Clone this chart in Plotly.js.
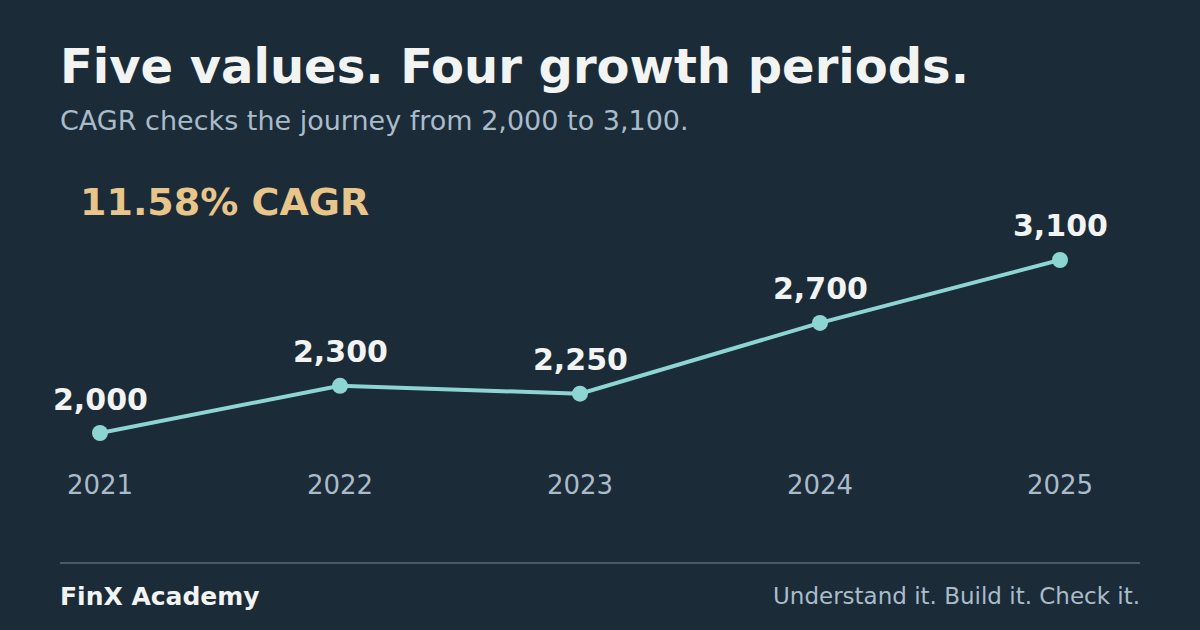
<!DOCTYPE html>
<html>
<head>
<meta charset="utf-8">
<script src="https://cdn.plot.ly/plotly-3.0.1.min.js"></script>
<style>
html,body{margin:0;padding:0;background:#1c2b38;}
#chart{width:1200px;height:630px;}
</style>
</head>
<body>
<div id="chart"></div>
<script>
const years = [2021, 2022, 2023, 2024, 2025];
const values = [2000, 2300, 2250, 2700, 3100];
const valueLabels = ["2,000", "2,300", "2,250", "2,700", "3,100"];
const tickLabels = ["2021", "2022", "2023", "2024", "2025"];
const titleText = "Five values. Four growth periods.";
const subtitleText = "CAGR checks the journey from 2,000 to 3,100.";
const cagrText = "11.58% CAGR";
const footerLeft = "FinX Academy";
const footerRight = "Understand it. Build it. Check it.";

const W = 1200, H = 630;
const mL = 100, mR = 140, mT = 200, mB = 170;
const pw = W - mL - mR, ph = H - mT - mB;
const px = p => (p - mL) / pw;
const py = p => (H - mB - p) / ph;

const FONT = "DejaVu Sans, sans-serif";
const annotations = years.map((yr, i) => ({
  x: yr, y: values[i], xref: 'x', yref: 'y',
  text: '<b>' + valueLabels[i] + '</b>', showarrow: false,
  yshift: 34, font: {family: FONT, size: 30, color: '#f1f4f2'}
}));
annotations.push(
  {xref:'paper', yref:'paper', x: px(58), y: py(66), xanchor:'left', yanchor:'middle', showarrow:false,
   text:'<b>' + titleText + '</b>', font:{family:FONT, size:48, color:'#f1f4f2'}},
  {xref:'paper', yref:'paper', x: px(58), y: py(121), xanchor:'left', yanchor:'middle', showarrow:false,
   text: subtitleText, font:{family:FONT, size:27, color:'#a9bccb'}},
  {xref:'paper', yref:'paper', x: px(78), y: py(202), xanchor:'left', yanchor:'middle', showarrow:false,
   text:'<b>' + cagrText + '</b>', font:{family:FONT, size:38, color:'#e8c58a'}},
  {xref:'paper', yref:'paper', x: px(58), y: py(596), xanchor:'left', yanchor:'middle', showarrow:false,
   text:'<b>' + footerLeft + '</b>', font:{family:FONT, size:25, color:'#f1f4f2'}},
  {xref:'paper', yref:'paper', x: px(1142), y: py(596), xanchor:'right', yanchor:'middle', showarrow:false,
   text: footerRight, font:{family:FONT, size:23, color:'#a9bccb'}}
);

const trace = {
  x: years, y: values, type: 'scatter', mode: 'lines+markers',
  line: {color: '#8dd5d3', width: 4},
  marker: {color: '#8dd5d3', size: 16},
  cliponaxis: false,
  hoverinfo: 'skip'
};

const layout = {
  width: W, height: H,
  paper_bgcolor: '#1c2b38', plot_bgcolor: '#1c2b38',
  margin: {l: mL, r: mR, t: mT, b: mB, pad: 0},
  showlegend: false,
  xaxis: {
    range: [2021, 2025], tickvals: years, ticktext: tickLabels,
    showgrid: false, zeroline: false, showline: false, ticks: '',
    tickfont: {family: FONT, size: 26, color: '#a9bccb'},
    ticklabelstandoff: 7, fixedrange: true
  },
  yaxis: {
    range: [1828.4, 3481.4], visible: false, showgrid: false, zeroline: false, fixedrange: true
  },
  shapes: [{type:'line', xref:'paper', yref:'paper', x0: px(60), x1: px(1140), y0: py(563), y1: py(563),
            line:{color:'#4a5967', width:2}}],
  annotations: annotations
};

Plotly.newPlot('chart', [trace], layout, {displayModeBar: false, staticPlot: true});
</script>
</body>
</html>
